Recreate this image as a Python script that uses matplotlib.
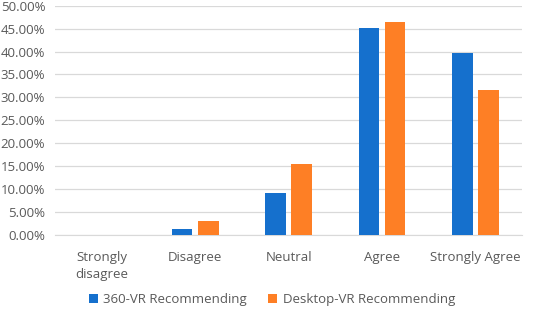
import numpy as np
import matplotlib.pyplot as plt
from matplotlib.ticker import FuncFormatter

categories = ['Strongly\ndisagree', 'Disagree', 'Neutral', 'Agree', 'Strongly Agree']
vr360 = [0.0, 1.3, 9.3, 45.2, 39.6]
desktop = [0.0, 3.1, 15.5, 46.4, 31.7]
series_names = ['360-VR Recommending', 'Desktop-VR Recommending']

plt.rcParams['font.family'] = ['Open Sans', 'DejaVu Sans']
txt = '#595959'

fig = plt.figure(figsize=(5.33, 3.10), dpi=100)
ax = fig.add_axes([0.103, 0.241, 0.877, 0.741])

x = np.arange(len(categories))
w = 0.22
gap = 0.06
ax.bar(x - (w + gap) / 2, vr360, w, color='#1570cd', label=series_names[0], zorder=3)
ax.bar(x + (w + gap) / 2, desktop, w, color='#fe7f25', label=series_names[1], zorder=3)

ax.set_xlim(-0.5, len(categories) - 0.5)
ax.set_ylim(0, 50)
ax.set_yticks(np.arange(0, 51, 5))
ax.yaxis.set_major_formatter(FuncFormatter(lambda v, p: f'{v:.2f}%'))
ax.grid(axis='y', color='#d9d9d9', linewidth=0.9, zorder=0)
ax.set_xticks(x)
ax.set_xticklabels(categories, linespacing=1.45)
ax.tick_params(length=0, labelsize=9.5, colors=txt, pad=11)
ax.tick_params(axis='y', pad=7)
for s in ['top', 'right', 'left']:
    ax.spines[s].set_visible(False)
ax.spines['bottom'].set_color('#d9d9d9')

fig.legend(loc='lower center', bbox_to_anchor=(0.51, -0.025), ncol=2, frameon=False,
           fontsize=9.5, labelcolor=txt, handlelength=0.7, handleheight=0.7,
           handletextpad=0.4, columnspacing=1.6)

fig.savefig('out.png', dpi=100)
